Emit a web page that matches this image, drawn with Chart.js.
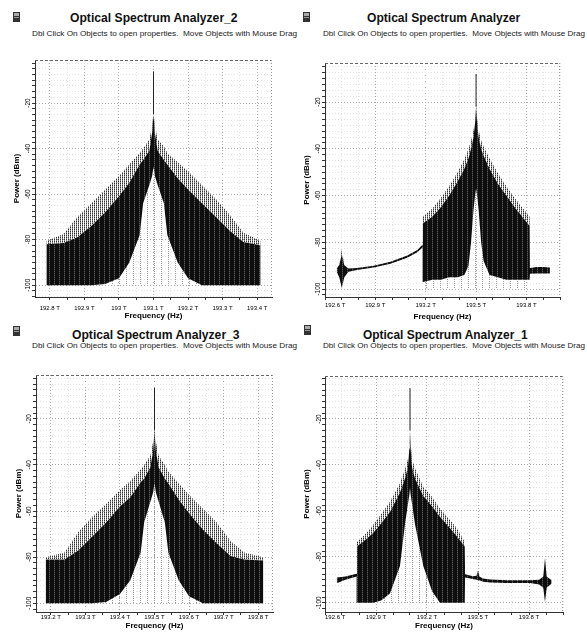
<!DOCTYPE html>
<html>
<head>
<meta charset="utf-8">
<script src="https://cdn.jsdelivr.net/npm/chart.js@4.4.0/dist/chart.umd.min.js"></script>
<style>
  body { margin: 0; background: #fff; }
  #page { position: relative; width: 587px; height: 641px; overflow: hidden; font-family: "Liberation Sans", Arial, sans-serif; }
  .title, .sub { position: absolute; white-space: nowrap; transform-origin: 0 0; }
  .title { font-size: 12px; font-weight: bold; color: #111; }
  .sub { font-size: 7px; color: #222; }
  .icon { position: absolute; width: 5px; height: 8px; border: 1px solid #333; background: linear-gradient(#aaa 0 3px, #333 3px 4px, #999 4px 5px, #333 5px); }
  canvas { position: absolute; }
</style>
</head>
<body>
<div id="page">
  <div class="icon" style="left:13px;top:12px"></div>
  <div class="title" data-cx="154" data-cy="18" data-w="168">Optical Spectrum Analyzer_2</div>
  <div class="sub" data-cx="164" data-cy="33" data-w="265">Dbl Click On Objects to open properties.&nbsp; Move Objects with Mouse Drag</div>

  <div class="icon" style="left:303px;top:12px"></div>
  <div class="title" data-cx="443" data-cy="18" data-w="153">Optical Spectrum Analyzer</div>
  <div class="sub" data-cx="454" data-cy="33" data-w="262">Dbl Click On Objects to open properties.&nbsp; Move Objects with Mouse Drag</div>

  <div class="icon" style="left:13px;top:326px"></div>
  <div class="title" data-cx="156" data-cy="335" data-w="168">Optical Spectrum Analyzer_3</div>
  <div class="sub" data-cx="164" data-cy="345" data-w="265">Dbl Click On Objects to open properties.&nbsp; Move Objects with Mouse Drag</div>

  <div class="icon" style="left:304px;top:325px"></div>
  <div class="title" data-cx="445" data-cy="335" data-w="165">Optical Spectrum Analyzer_1</div>
  <div class="sub" data-cx="454" data-cy="345" data-w="262">Dbl Click On Objects to open properties.&nbsp; Move Objects with Mouse Drag</div>

  <canvas id="c2" width="293" height="280" style="left:0;top:45px"></canvas>
  <canvas id="c0" width="294" height="280" style="left:293px;top:45px"></canvas>
  <canvas id="c3" width="293" height="281" style="left:0;top:360px"></canvas>
  <canvas id="c1" width="294" height="281" style="left:293px;top:360px"></canvas>
</div>
<script>
// tick values
const yTicks = [-100, -80, -60, -40, -20];
const osa2XTicks = [192.8, 192.9, 193.0, 193.1, 193.2, 193.3, 193.4];
const osa3XTicks = [193.2, 193.3, 193.4, 193.5, 193.6, 193.7, 193.8];
const wideXTicks = [192.6, 192.9, 193.2, 193.5, 193.8];

// Optical Spectrum Analyzer_2 (carrier 193.1 THz) - envelopes
const osa2Freq = [192.79, 192.84, 192.88, 192.92, 192.96, 193.00, 193.03, 193.06, 193.07, 193.088, 193.096, 193.1,
  193.104, 193.112, 193.13, 193.14, 193.17, 193.20, 193.24, 193.28, 193.32, 193.36, 193.41];
const osa2SpikeTop = [-80.5, -77.5, -70, -64, -58, -52, -47, -42, -40, -36, -30, -24,
  -30, -36, -39, -42, -46, -50, -56, -62, -69, -77, -80.5];
const osa2DarkTop = [-82, -81.5, -79, -74, -68, -61, -55, -47, -45, -41, -33, -25,
  -33, -41, -45, -47, -53, -58, -64, -70, -76, -81, -82.5];
const osa2DarkBottom = [-100, -100, -100, -100, -99.5, -97, -90, -78, -64, -56, -52, -48,
  -52, -56, -64, -78, -90, -97, -100, -100, -100, -100, -100];
const osa2SpikeBottom = [-100, -100, -100, -100, -100, -100, -100, -100, -100, -100, -100, -100,
  -100, -100, -100, -100, -100, -100, -100, -100, -100, -100, -100];
const osa2Peak = [193.1, -6.1];

// Optical Spectrum Analyzer (carrier 193.5 THz, wide span)
const osaFreq = [192.67, 192.685, 192.70, 192.715, 192.74, 192.79, 192.89, 192.99, 193.09, 193.15, 193.181,
  193.183, 193.24, 193.29, 193.34, 193.39, 193.43, 193.455, 193.47, 193.485, 193.494, 193.5, 193.506, 193.515,
  193.53, 193.545, 193.58, 193.63, 193.68, 193.73, 193.78, 193.819,
  193.821, 193.86, 193.90, 193.94];
const osaSpikeTop = [-91, -89.8, -83, -89.8, -91.2, -91, -90, -88.3, -85.6, -83.3, -81,
  -69, -65.5, -61, -56, -50, -44.5, -40, -36.5, -32, -27, -22, -27, -32,
  -36.5, -39, -44, -50.5, -56, -61, -65.5, -69,
  -91, -90.6, -90.6, -90.8];
const osaDarkTop = [-91, -89.8, -85, -89.8, -91.2, -91, -90, -88.3, -85.6, -83.3, -81,
  -72, -69, -65, -60, -54, -48.5, -44, -40, -35, -29, -22, -29, -35,
  -40, -43, -48.5, -55, -60, -65, -69.5, -73,
  -91, -90.6, -90.6, -90.8];
const osaDarkBottom = [-92.8, -95, -99.5, -95, -92.6, -91.8, -90.8, -89.2, -86.6, -84.3, -82.2,
  -97, -96, -96, -95, -95, -94, -90, -80, -66, -60, -57, -60, -66,
  -80, -88, -94, -95, -96, -96, -96, -96,
  -93.5, -93.4, -93.3, -93.3];
const osaSpikeBottom = [-92.8, -95, -99.5, -95, -92.6, -91.8, -90.8, -89.2, -86.6, -84.3, -82.2,
  -100, -100, -100, -100, -100, -100, -100, -100, -100, -100, -100, -100, -100,
  -100, -100, -100, -100, -100, -100, -100, -100,
  -93.5, -93.4, -93.3, -93.3];
const osaPeak = [193.5, -8];

// Optical Spectrum Analyzer_3 (carrier 193.5 THz)
const osa3Freq = [193.185, 193.24, 193.28, 193.32, 193.36, 193.40, 193.43, 193.46, 193.47, 193.488, 193.496, 193.5,
  193.504, 193.512, 193.53, 193.54, 193.57, 193.60, 193.64, 193.68, 193.72, 193.76, 193.815];
const osa3SpikeTop = [-80, -78, -69, -62.5, -57, -51, -47, -42, -40, -36, -30, -24,
  -30, -36, -40, -43, -48, -53, -59, -65, -73, -78, -80];
const osa3DarkTop = [-81, -81, -77, -71, -65, -58, -54, -47.5, -46, -41, -34, -25,
  -34, -41, -46, -48, -55, -61, -68, -74, -79.5, -81, -81.5];
const osa3DarkBottom = [-100, -100, -100, -100, -99.5, -96, -90, -78, -65, -56, -52, -48,
  -52, -56, -65, -78, -90, -97, -100, -100, -100, -100, -100];
const osa3SpikeBottom = [-100, -100, -100, -100, -100, -100, -100, -100, -100, -100, -100, -100,
  -100, -100, -100, -100, -100, -100, -100, -100, -100, -100, -100];
const osa3Peak = [193.5, -6.6];

// Optical Spectrum Analyzer_1 (carrier 193.1 THz, wide span)
const osa1Freq = [192.669, 192.72, 192.786,
  192.788, 192.84, 192.884, 192.93, 192.982, 193.041, 193.07, 193.088, 193.096, 193.1, 193.104, 193.112, 193.13,
  193.178, 193.23, 193.276, 193.33, 193.375, 193.422,
  193.424, 193.47, 193.492, 193.5, 193.508, 193.53, 193.571, 193.669, 193.806, 193.86, 193.884, 193.894, 193.904, 193.933];
const osa1SpikeTop = [-89, -88.6, -87.4,
  -73.5, -70, -66, -61.5, -56, -48, -42, -37.5, -31, -25, -31, -37.5, -41.5,
  -49.5, -54, -59, -63.5, -67.5, -73.5,
  -87.6, -88.4, -88.2, -85.8, -88.5, -89.4, -89.9, -90.2, -90.2, -90, -88.5, -80.5, -88.5, -90.2];
const osa1DarkTop = [-89, -88.6, -87.4,
  -75.5, -72.5, -69.5, -65.5, -60.5, -52, -46, -41, -33, -25, -33, -41, -46,
  -53.5, -58, -62.5, -67, -71, -75.5,
  -87.6, -88.4, -88.2, -85.8, -88.5, -89.4, -89.9, -90.2, -90.2, -90, -88.5, -80.5, -88.5, -90.2];
const osa1DarkBottom = [-91.5, -90, -88.6,
  -100, -100, -100, -99, -96, -84, -66, -57, -53, -50, -53, -57, -66,
  -84, -95, -100, -100, -100, -100,
  -89, -89.6, -90, -90.2, -90.2, -90.8, -91.2, -91.4, -91.4, -92, -93.5, -99.6, -93.5, -91.6];
const osa1SpikeBottom = [-91.5, -90, -88.6,
  -100, -100, -100, -100, -100, -100, -100, -100, -100, -100, -100, -100, -100,
  -100, -100, -100, -100, -100, -100,
  -89, -89.6, -90, -90.2, -90.2, -90.8, -91.2, -91.4, -91.4, -92, -93.5, -99.6, -93.5, -91.6];
const osa1Peak = [193.1, -6.6];

// fit the header texts
document.querySelectorAll('.title, .sub').forEach(el => {
  const w = el.offsetWidth, h = el.offsetHeight;
  const s = +el.dataset.w / w;
  el.style.left = (+el.dataset.cx - w * s / 2) + 'px';
  el.style.top = (+el.dataset.cy - h / 2) + 'px';
  el.style.transform = 'scaleX(' + s + ')';
});

function makePattern(w, h, base, cells) {
  const c = document.createElement('canvas');
  c.width = w; c.height = h;
  const g = c.getContext('2d');
  if (base) { g.fillStyle = base; g.fillRect(0, 0, w, h); }
  cells.forEach(([x, y, col]) => { g.fillStyle = col; g.fillRect(x, y, 1, 1); });
  return g.createPattern(c, 'repeat');
}
const darkFill = makePattern(5, 2, '#0e0e0e', [[4, 0, '#5a5a5a'], [4, 1, '#2a2a2a']]);
const spikeFill = makePattern(2, 2, null, [[0, 0, '#333'], [0, 1, '#8a8a8a']]);
const sparseFill = makePattern(7, 2, null, [[0, 0, '#999']]);

Chart.defaults.font.family = '"Liberation Sans", Arial, sans-serif';
Chart.defaults.color = '#000';

const framePlugin = {
  id: 'frame',
  beforeDatasetsDraw(chart) {
    const { ctx, chartArea: a } = chart;
    ctx.save();
    ctx.lineWidth = 1;
    ctx.strokeStyle = '#666';
    ctx.setLineDash([3, 2]);
    ctx.beginPath(); ctx.moveTo(a.left, a.top + 0.5); ctx.lineTo(a.right, a.top + 0.5); ctx.stroke();
    ctx.strokeStyle = '#999';
    ctx.setLineDash([1, 2]);
    ctx.beginPath(); ctx.moveTo(a.right - 0.5, a.top); ctx.lineTo(a.right - 0.5, a.bottom); ctx.stroke();
    ctx.restore();
  }
};

function tickSet(min, max, majors, step) {
  const out = [];
  const start = Math.ceil(min / step - 1e-6);
  for (let i = start; i * step <= max + 1e-9; i++) {
    const v = Math.round(i * step * 1000) / 1000;
    out.push({ value: v, major: majors.some(m => Math.abs(m - v) < 1e-6) });
  }
  return out;
}

const pts = (xs, ys) => xs.map((x, i) => ({ x, y: ys[i] }));

function drawOsa(p) {
  const ci = p.freq.indexOf(p.peak[0]);
  const gridColor = c => (c.tick && c.tick.major) ? '#a8a8a8' : '#e4e4e4';
  new Chart(document.getElementById(p.id), {
    type: 'line',
    data: {
      datasets: [
        { data: pts(p.freq, p.spikeTop), fill: '+1', backgroundColor: spikeFill, borderWidth: 0 },
        { data: pts(p.freq, p.darkTop), fill: '+1', backgroundColor: darkFill, borderWidth: 0 },
        { data: pts(p.freq, p.darkBottom), fill: '+1', backgroundColor: sparseFill, borderWidth: 0 },
        { data: pts(p.freq, p.spikeBottom), fill: false, borderWidth: 0 },
        { data: [{ x: p.peak[0], y: p.darkTop[ci] }, { x: p.peak[0], y: p.peak[1] }], fill: false, borderColor: '#222', borderWidth: 1 }
      ]
    },
    options: {
      responsive: false,
      animation: false,
      events: [],
      elements: { point: { radius: 0 }, line: { tension: 0 } },
      layout: { padding: { left: 0, top: p.box.top, right: p.box.right, bottom: 0 } },
      plugins: { legend: { display: false }, tooltip: { enabled: false } },
      scales: {
        x: {
          type: 'linear', min: p.xMin, max: p.xMax,
          afterBuildTicks: s => { s.ticks = tickSet(p.xMin, p.xMax, p.xTicks, p.xStep); },
          afterFit: s => { s.height = p.box.xHeight; s.paddingLeft = s.paddingRight = 0; },
          ticks: {
            autoSkip: false, minRotation: 0, maxRotation: 0, padding: p.box.xLabelPad,
            align: p.inner ? 'inner' : 'center',
            font: { size: 6 },
            callback: (v, i, ticks) => ticks[i].major ? (Math.round(v * 10) / 10) + ' T' : ''
          },
          grid: { color: gridColor, tickColor: '#333', tickLength: 3 },
          border: { display: true, color: '#333', width: 1, dash: [1, 2] },
          title: { display: true, text: 'Frequency (Hz)', font: { size: 8, weight: 'bold' }, padding: { top: 0, bottom: p.box.xTitlePad } }
        },
        y: {
          type: 'linear', min: p.yMin, max: p.yMax,
          afterBuildTicks: s => { s.ticks = tickSet(p.yMin, p.yMax, yTicks, 2.5); },
          afterFit: s => { s.width = p.box.yWidth; s.paddingTop = s.paddingBottom = 0; },
          ticks: {
            autoSkip: false, minRotation: 90, maxRotation: 90, crossAlign: 'center',
            padding: p.box.yLabelPad, font: { size: 6.5 },
            callback: (v, i, ticks) => ticks[i].major ? String(v) : ''
          },
          grid: { color: gridColor, tickColor: '#333', tickLength: 3 },
          border: { display: true, color: '#333', width: 1, dash: [1, 2] },
          title: { display: true, text: 'Power (dBm)', font: { size: 8, weight: 'bold' }, padding: { top: p.box.yTitlePad, bottom: 0 } }
        }
      }
    },
    plugins: [framePlugin]
  });
}

drawOsa({ id: 'c2', freq: osa2Freq, spikeTop: osa2SpikeTop, darkTop: osa2DarkTop, darkBottom: osa2DarkBottom,
  spikeBottom: osa2SpikeBottom, peak: osa2Peak, xTicks: osa2XTicks, xMin: 192.757, xMax: 193.443, xStep: 0.05,
  yMin: -105.2, yMax: -1.1, inner: false,
  box: { yWidth: 35, top: 15, right: 21, xHeight: 28, xLabelPad: 4.4, xTitlePad: 4.7, yLabelPad: -2.3, yTitlePad: 11.9 } });

drawOsa({ id: 'c0', freq: osaFreq, spikeTop: osaSpikeTop, darkTop: osaDarkTop, darkBottom: osaDarkBottom,
  spikeBottom: osaSpikeBottom, peak: osaPeak, xTicks: wideXTicks, xMin: 192.6, xMax: 194.0, xStep: 0.1,
  yMin: -103.4, yMax: -3.3, inner: true,
  box: { yWidth: 32, top: 18, right: 27, xHeight: 28, xLabelPad: 1.4, xTitlePad: 3.2, yLabelPad: -2.3, yTitlePad: 8.9 } });

drawOsa({ id: 'c3', freq: osa3Freq, spikeTop: osa3SpikeTop, darkTop: osa3DarkTop, darkBottom: osa3DarkBottom,
  spikeBottom: osa3SpikeBottom, peak: osa3Peak, xTicks: osa3XTicks, xMin: 193.157, xMax: 193.843, xStep: 0.05,
  yMin: -103.8, yMax: -1, inner: false,
  box: { yWidth: 36, top: 15, right: 20, xHeight: 29, xLabelPad: -0.9, xTitlePad: 10.5, yLabelPad: -2.3, yTitlePad: 13.5 } });

drawOsa({ id: 'c1', freq: osa1Freq, spikeTop: osa1SpikeTop, darkTop: osa1DarkTop, darkBottom: osa1DarkBottom,
  spikeBottom: osa1SpikeBottom, peak: osa1Peak, xTicks: wideXTicks, xMin: 192.6, xMax: 194.0, xStep: 0.1,
  yMin: -104, yMax: -1.3, inner: true,
  box: { yWidth: 32, top: 16, right: 24, xHeight: 29, xLabelPad: -0.9, xTitlePad: 10.5, yLabelPad: -3.3, yTitlePad: 8.9 } });
</script>
</body>
</html>
